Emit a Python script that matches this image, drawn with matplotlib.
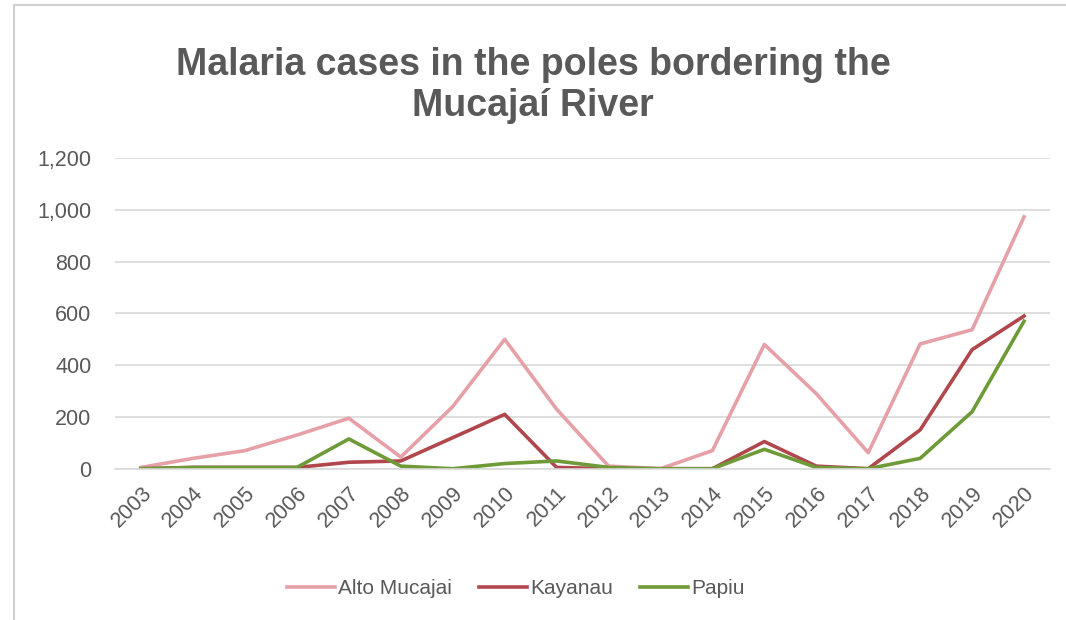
import matplotlib
matplotlib.use('Agg')
from matplotlib import pyplot as plt
from matplotlib.patches import Rectangle

years = [str(y) for y in range(2003, 2021)]
alto_mucajai = [5, 40, 70, 130, 195, 45, 240, 500, 230, 10, 0, 70, 480, 290, 62, 482, 537, 973]
kayanau = [0, 5, 5, 5, 25, 30, 120, 210, 5, 0, 0, 0, 105, 10, 0, 150, 460, 590]
papiu = [0, 5, 5, 5, 115, 10, 0, 20, 30, 5, 0, 0, 75, 5, 0, 40, 220, 570]
yticks = [0, 200, 400, 600, 800, 1000, 1200]

grey = '#595959'
plt.rcParams['font.family'] = ['Liberation Sans', 'DejaVu Sans']

fig = plt.figure(figsize=(10.66, 6.2), dpi=100)
ax = fig.add_axes([0.108, 0.244, 0.877, 0.501])

x = range(len(years))
ax.plot(x, alto_mucajai, color='#E6A0A8', lw=2.6, label='Alto Mucajai')
ax.plot(x, kayanau, color='#B0474D', lw=2.6, label='Kayanau')
ax.plot(x, papiu, color='#6E9B38', lw=2.6, label='Papiu')

ax.set_xlim(-0.5, len(years) - 0.5)
ax.set_ylim(0, 1200)
ax.set_yticks(yticks)
ax.set_yticklabels([f'{v:,}' for v in yticks])
ax.set_xticks(list(x))
ax.set_xticklabels(years, rotation=45, ha='right', rotation_mode='anchor')
ax.tick_params(axis='both', length=0, colors=grey, labelsize=15.5)
ax.tick_params(axis='y', pad=17)
ax.tick_params(axis='x', pad=10)
ax.grid(axis='y', color='#D9D9D9', lw=1.2)
ax.set_axisbelow(True)
for s in ['top', 'right', 'left']:
    ax.spines[s].set_visible(False)
ax.spines['bottom'].set_color('#D9D9D9')
ax.spines['bottom'].set_linewidth(1.2)

fig.text(0.5, 0.862, 'Malaria cases in the poles bordering the\nMucajaí River',
         ha='center', va='center', fontsize=27, fontweight='bold', color=grey,
         linespacing=1.2)

fig.legend(loc='center', bbox_to_anchor=(0.484, 0.05), ncol=3, frameon=False,
           fontsize=15, labelcolor=grey, handlelength=2.3, handletextpad=0.15,
           columnspacing=1.3)

fig.patches.append(Rectangle((14 / 1066, -0.1), 1.2, 1 - 5 / 620 + 0.1,
                             transform=fig.transFigure, fill=False,
                             edgecolor='#D0D0D0', lw=1.5))

fig.savefig('out.png', dpi=100)
